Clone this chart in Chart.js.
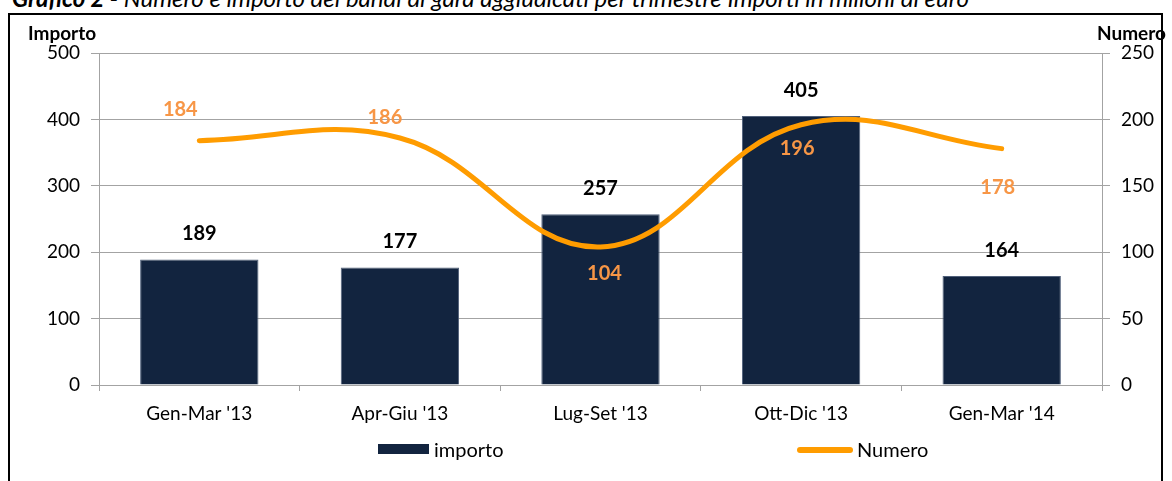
<!DOCTYPE html>
<html><head><meta charset="utf-8">
<script src="https://cdn.jsdelivr.net/npm/chart.js@4.4.0/dist/chart.umd.min.js"></script>
<style>
html,body{margin:0;padding:0;width:1172px;height:481px;overflow:hidden;background:#fff;font-family:Lato,"Open Sans",sans-serif;}
#c{position:absolute;left:0;top:0;}
#frame{position:absolute;left:8px;top:13px;width:1151px;height:520px;border:2px solid #000;pointer-events:none;}
#title{position:absolute;left:12px;top:-14px;font-size:24px;line-height:24px;font-style:italic;white-space:nowrap;color:#000;}
.axt{position:absolute;font-weight:bold;font-size:19px;line-height:22px;top:22px;color:#000;white-space:nowrap;}
.leg{position:absolute;top:437px;font-size:20px;line-height:24px;color:#000;white-space:nowrap;}
.sw{position:absolute;}
</style>
</head><body>
<div id="title"><b>Grafico 2 -</b> Numero e importo dei bandi di gara aggiudicati per trimestre Importi in milioni di euro</div>
<canvas id="c" width="1172" height="481"></canvas>
<div class="axt" style="left:28px;">Importo</div>
<div class="axt" style="left:1097px;">Numero</div>
<div class="sw" style="left:378px;top:444px;width:51px;height:10px;background:#12243F;"></div>
<div class="leg" style="left:434px;">importo</div>
<div class="sw" style="left:797px;top:447px;width:56px;height:6px;border-radius:3px;background:#FF9C00;"></div>
<div class="leg" style="left:857px;">Numero</div>
<div id="frame"></div>
<script>
const categories = ["Gen-Mar '13", "Apr-Giu '13", "Lug-Set '13", "Ott-Dic '13", "Gen-Mar '14"];
const importo = [189, 177, 257, 405, 164];
const numero = [184, 186, 104, 196, 178];
const leftTicks = [0, 100, 200, 300, 400, 500];
const rightTicks = [0, 50, 100, 150, 200, 250];

// label offsets for the line labels (dx, dy from point)
const numeroLabelOffsets = [[-19,-31],[-15,-20],[4,27],[-4,24],[-4,39]];

const labelPlugin = {
  id: 'labels',
  afterDatasetsDraw(chart) {
    const ctx = chart.ctx;
    ctx.save();
    ctx.textAlign = 'center';
    ctx.textBaseline = 'middle';
    const barMeta = chart.getDatasetMeta(1);
    ctx.font = 'bold 20px Lato, sans-serif';
    ctx.fillStyle = '#000';
    barMeta.data.forEach((el, i) => {
      ctx.fillText(String(importo[i]), el.x, el.y - 26);
    });
    const lineMeta = chart.getDatasetMeta(0);
    ctx.fillStyle = '#F79646';
    lineMeta.data.forEach((el, i) => {
      const o = numeroLabelOffsets[i];
      ctx.fillText(String(numero[i]), el.x + o[0], el.y + o[1]);
    });
    ctx.restore();
  }
};

const gridCol = '#a3a3a3';
new Chart(document.getElementById('c'), {
  data: {
    labels: categories,
    datasets: [
      { type: 'line', label: 'Numero', data: numero, yAxisID: 'yR', borderColor: '#FF9C00', borderWidth: 5,
        tension: 0.4, pointRadius: 0, borderCapStyle: 'round', order: 0, fill: false },
      { type: 'bar', label: 'importo', data: importo, yAxisID: 'yL', backgroundColor: '#12243F',
        borderColor: '#50607a', borderWidth: 1, categoryPercentage: 1, barPercentage: 0.59, order: 1 }
    ]
  },
  options: {
    responsive: false,
    animation: false,
    layout: { padding: { left: 0, right: 0, top: 53, bottom: 0 } },
    plugins: { legend: { display: false }, tooltip: { enabled: false } },
    scales: {
      x: {
        offset: true,
        grid: { display: true, drawOnChartArea: false, tickLength: 6, color: gridCol },
        border: { display: true, color: gridCol },
        ticks: { color: '#000', font: { family: 'Lato', size: 19 }, padding: 11, maxRotation: 0 },
        afterFit(s) { s.height = 96; }
      },
      yL: {
        position: 'left', min: 0, max: 500,
        afterBuildTicks(s) { s.ticks = leftTicks.map(v => ({ value: v })); },
        grid: { color: gridCol, tickLength: 8 },
        border: { color: gridCol },
        ticks: { color: '#000', font: { family: 'Lato', size: 19 }, padding: 11 },
        afterFit(s) { s.width = 99; }
      },
      yR: {
        position: 'right', min: 0, max: 250,
        afterBuildTicks(s) { s.ticks = rightTicks.map(v => ({ value: v })); },
        grid: { drawOnChartArea: false, color: gridCol, tickLength: 8 },
        border: { color: gridCol },
        ticks: { color: '#000', font: { family: 'Lato', size: 19 }, padding: 11 },
        afterFit(s) { s.width = 70; }
      }
    }
  },
  plugins: [labelPlugin]
});
</script>
</body></html>
